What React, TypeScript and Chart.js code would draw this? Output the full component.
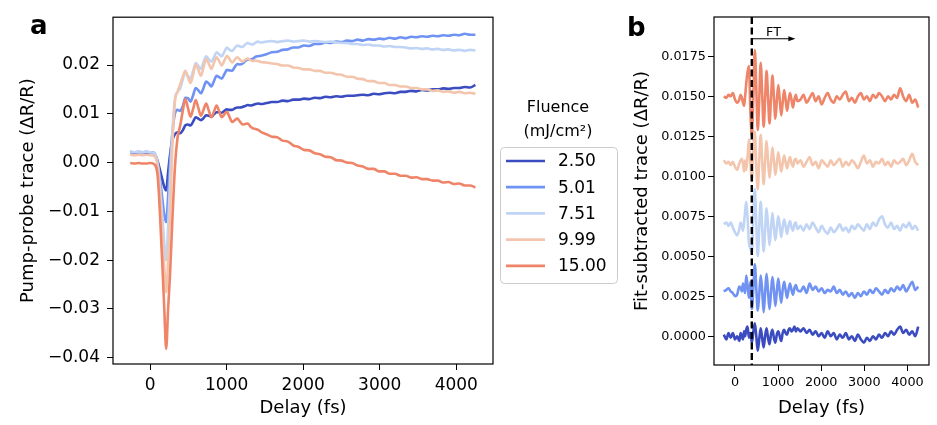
import React, { useEffect, useRef } from 'react';
import { Chart, registerables } from 'chart.js';

Chart.register(...registerables);

const FONT = 'DejaVu Sans';

// pump-probe delay grid (fs), shared by every trace
const delays = [
  -260, -200, -150, -100, -50, 0, 50, 100, 130, 160, 185, 210, 235, 260,
  290, 324, 358, 392, 426, 460, 494, 528, 562, 596, 630, 664, 698, 732, 766, 800, 834, 868,
  902, 936, 970, 1004, 1038, 1072, 1106, 1140, 1174, 1208, 1242, 1276, 1310, 1344, 1378, 1412, 1446,
  1520, 1590, 1660, 1730, 1800, 1870, 1940, 2010, 2080, 2150, 2220, 2290, 2360, 2430, 2500, 2570,
  2640, 2710, 2780, 2850, 2920, 2990, 3060, 3130, 3200, 3270, 3340, 3410, 3480, 3550, 3620, 3690,
  3760, 3830, 3900, 3970, 4040, 4110, 4180, 4250,
];

const fluences = ['2.50', '5.01', '7.51', '9.99', '15.00'];
const colors = ['#3b4cc0', '#7093f3', '#c0d4f5', '#f4c5ad', '#ee8468'];

// panel a: raw traces (ΔR/R)
const trace250 = [
  0.0021, 0.0020, 0.0021, 0.0021, 0.0020, 0.0021, 0.0019, 0.0002, -0.0016, -0.0035, -0.0050, -0.0057, -0.0020, 0.0015,
  0.0045, 0.0058, 0.0062, 0.0060, 0.0066, 0.0076, 0.0078, 0.0076, 0.0084, 0.0093, 0.0090, 0.0087, 0.0091, 0.0097, 0.0096,
  0.0094, 0.0099, 0.0103, 0.0103, 0.0102, 0.0106, 0.0109, 0.0108, 0.0108, 0.0111, 0.0113, 0.0113, 0.0114, 0.0116, 0.0118,
  0.0117, 0.0118, 0.0120, 0.0121, 0.0120,
  0.0122, 0.0124, 0.0124, 0.0127, 0.0126, 0.0129, 0.0129, 0.0131, 0.0130, 0.0133, 0.0132, 0.0135, 0.0134, 0.0136, 0.0135,
  0.0137, 0.0137, 0.0138, 0.0139, 0.0138, 0.0141, 0.0140, 0.0142, 0.0143, 0.0142, 0.0145, 0.0145, 0.0147, 0.0146, 0.0149,
  0.0148, 0.0150, 0.0150, 0.0152, 0.0151, 0.0153, 0.0153, 0.0155, 0.0154, 0.0159,
];
const trace501 = [
  0.0022, 0.0021, 0.0022, 0.0021, 0.0022, 0.0021, 0.0020, -0.0002, -0.0035, -0.0075, -0.0108, -0.0122, -0.0070, 0.0000,
  0.0060, 0.0100, 0.0108, 0.0106, 0.0115, 0.0133, 0.0132, 0.0125, 0.0138, 0.0153, 0.0148, 0.0142, 0.0153, 0.0166, 0.0162,
  0.0156, 0.0167, 0.0178, 0.0175, 0.0172, 0.0181, 0.0190, 0.0189, 0.0188, 0.0196, 0.0202, 0.0201, 0.0203, 0.0208, 0.0211,
  0.0211, 0.0213, 0.0217, 0.0218, 0.0219,
  0.0222, 0.0226, 0.0227, 0.0231, 0.0232, 0.0236, 0.0236, 0.0240, 0.0239, 0.0243, 0.0243, 0.0246, 0.0245, 0.0248, 0.0247,
  0.0250, 0.0249, 0.0252, 0.0250, 0.0253, 0.0252, 0.0254, 0.0253, 0.0256, 0.0254, 0.0257, 0.0255, 0.0258, 0.0257, 0.0259,
  0.0258, 0.0260, 0.0259, 0.0261, 0.0260, 0.0262, 0.0261, 0.0264, 0.0262, 0.0262,
];
const trace751 = [
  0.0022, 0.0021, 0.0022, 0.0021, 0.0022, 0.0021, 0.0020, -0.0004, -0.0050, -0.0110, -0.0165, -0.0200, -0.0130, -0.0040,
  0.0060, 0.0130, 0.0145, 0.0152, 0.0170, 0.0185, 0.0178, 0.0172, 0.0188, 0.0204, 0.0198, 0.0192, 0.0206, 0.0218, 0.0212,
  0.0207, 0.0216, 0.0226, 0.0222, 0.0218, 0.0227, 0.0236, 0.0231, 0.0229, 0.0235, 0.0240, 0.0238, 0.0237, 0.0242, 0.0245,
  0.0243, 0.0242, 0.0246, 0.0248, 0.0246,
  0.0248, 0.0249, 0.0247, 0.0249, 0.0250, 0.0248, 0.0249, 0.0250, 0.0248, 0.0249, 0.0248, 0.0247, 0.0248, 0.0246, 0.0245,
  0.0245, 0.0243, 0.0243, 0.0241, 0.0242, 0.0240, 0.0240, 0.0238, 0.0239, 0.0237, 0.0237, 0.0236, 0.0234, 0.0235, 0.0233,
  0.0234, 0.0232, 0.0233, 0.0231, 0.0232, 0.0230, 0.0231, 0.0229, 0.0231, 0.0230,
];
const trace999 = [
  0.0016, 0.0015, 0.0016, 0.0015, 0.0016, 0.0015, 0.0014, -0.0010, -0.0070, -0.0150, -0.0215, -0.0266, -0.0200, -0.0110,
  0.0030, 0.0125, 0.0145, 0.0160, 0.0176, 0.0188, 0.0175, 0.0163, 0.0180, 0.0201, 0.0190, 0.0178, 0.0195, 0.0212, 0.0203,
  0.0192, 0.0204, 0.0216, 0.0208, 0.0199, 0.0209, 0.0219, 0.0212, 0.0205, 0.0211, 0.0216, 0.0211, 0.0207, 0.0211, 0.0213,
  0.0210, 0.0208, 0.0209, 0.0208, 0.0206,
  0.0205, 0.0203, 0.0202, 0.0199, 0.0199, 0.0195, 0.0194, 0.0191, 0.0191, 0.0188, 0.0188, 0.0184, 0.0184, 0.0181, 0.0180,
  0.0176, 0.0176, 0.0172, 0.0171, 0.0167, 0.0167, 0.0163, 0.0163, 0.0159, 0.0159, 0.0156, 0.0156, 0.0153, 0.0153, 0.0150,
  0.0150, 0.0147, 0.0148, 0.0145, 0.0146, 0.0143, 0.0145, 0.0142, 0.0143, 0.0141,
];
const trace1500 = [
  -0.0001, -0.0002, -0.0001, -0.0002, -0.0002, -0.0001, -0.0003, -0.0030, -0.0110, -0.0210, -0.0300, -0.0382, -0.0300, -0.0230,
  -0.0120, -0.0010, 0.0050, 0.0075, 0.0105, 0.0130, 0.0112, 0.0094, 0.0110, 0.0128, 0.0112, 0.0096, 0.0108, 0.0121, 0.0107,
  0.0093, 0.0104, 0.0117, 0.0105, 0.0093, 0.0099, 0.0104, 0.0093, 0.0083, 0.0087, 0.0090, 0.0084, 0.0078, 0.0079, 0.0080,
  0.0074, 0.0070, 0.0069, 0.0067, 0.0063,
  0.0058, 0.0053, 0.0052, 0.0045, 0.0043, 0.0035, 0.0032, 0.0026, 0.0025, 0.0019, 0.0017, 0.0012, 0.0011, 0.0005, 0.0004,
  0.0000, -0.0001, -0.0006, -0.0008, -0.0013, -0.0013, -0.0018, -0.0018, -0.0023, -0.0023, -0.0027, -0.0027, -0.0031, -0.0030, -0.0034,
  -0.0034, -0.0037, -0.0037, -0.0041, -0.0040, -0.0044, -0.0043, -0.0047, -0.0047, -0.0051,
];

// panel b: fit-subtracted traces, already offset
const sub250 = [
  0.0001, -0.0002, 0.0002, -0.0001, 0.0002, -0.0002, 0.0000, -0.0003, 0.0002, 0.0000, -0.0002, 0.0003, 0.0000, 0.0004,
  0.0006, -0.0001, 0.0002, -0.0004, 0.0003, 0.0008, 0.0000, -0.0009, -0.0002, 0.0005, -0.0001, -0.0007, 0.0000, 0.0005, -0.0001,
  -0.0005, 0.0001, 0.0004, -0.0001, -0.0004, 0.0001, 0.0003, 0.0000, -0.0003, 0.0002, 0.0004, 0.0002, 0.0001, 0.0004, 0.0005,
  0.0003, 0.0004, 0.0006, 0.0003, 0.0005,
  0.0003, 0.0005, 0.0002, 0.0004, 0.0001, 0.0003, 0.0000, 0.0002, -0.0001, 0.0003, 0.0000, 0.0002, -0.0002, 0.0001, -0.0001,
  0.0002, -0.0002, 0.0000, -0.0003, 0.0001, -0.0002, -0.0004, -0.0001, -0.0003, 0.0000, -0.0002, 0.0001, -0.0001, 0.0002, 0.0000,
  0.0003, 0.0001, 0.0004, 0.0006, 0.0002, 0.0004, 0.0001, 0.0003, 0.0000, 0.0006,
];
const sub501 = [
  0.0028, 0.0029, 0.0030, 0.0028, 0.0027, 0.0025, 0.0026, 0.0031, 0.0030, 0.0028, 0.0033, 0.0030, 0.0027, 0.0038,
  0.0032, 0.0024, 0.0034, 0.0017, 0.0030, 0.0045, 0.0030, 0.0016, 0.0026, 0.0038, 0.0029, 0.0015, 0.0027, 0.0039, 0.0028,
  0.0017, 0.0027, 0.0037, 0.0029, 0.0019, 0.0028, 0.0036, 0.0028, 0.0021, 0.0029, 0.0034, 0.0029, 0.0024, 0.0029, 0.0033,
  0.0029, 0.0026, 0.0030, 0.0032, 0.0029,
  0.0028, 0.0031, 0.0027, 0.0033, 0.0029, 0.0031, 0.0028, 0.0030, 0.0027, 0.0029, 0.0028, 0.0031, 0.0027, 0.0029, 0.0026,
  0.0028, 0.0025, 0.0027, 0.0024, 0.0027, 0.0025, 0.0028, 0.0026, 0.0029, 0.0027, 0.0030, 0.0028, 0.0026, 0.0029, 0.0027,
  0.0030, 0.0028, 0.0031, 0.0029, 0.0032, 0.0028, 0.0031, 0.0034, 0.0029, 0.0031,
];
const sub751 = [
  0.0070, 0.0071, 0.0069, 0.0071, 0.0068, 0.0065, 0.0063, 0.0067, 0.0071, 0.0069, 0.0066, 0.0071, 0.0078, 0.0084,
  0.0075, 0.0058, 0.0055, 0.0052, 0.0075, 0.0092, 0.0070, 0.0050, 0.0068, 0.0084, 0.0068, 0.0053, 0.0066, 0.0080, 0.0069,
  0.0057, 0.0067, 0.0077, 0.0068, 0.0060, 0.0068, 0.0075, 0.0069, 0.0062, 0.0068, 0.0073, 0.0069, 0.0064, 0.0069, 0.0072,
  0.0068, 0.0066, 0.0070, 0.0071, 0.0067,
  0.0069, 0.0066, 0.0070, 0.0067, 0.0071, 0.0068, 0.0065, 0.0069, 0.0066, 0.0064, 0.0068, 0.0065, 0.0067, 0.0070, 0.0066,
  0.0068, 0.0065, 0.0069, 0.0067, 0.0070, 0.0068, 0.0066, 0.0070, 0.0067, 0.0071, 0.0069, 0.0073, 0.0075, 0.0070, 0.0068,
  0.0071, 0.0067, 0.0069, 0.0066, 0.0070, 0.0068, 0.0071, 0.0067, 0.0069, 0.0066,
];
const sub999 = [
  0.0110, 0.0108, 0.0109, 0.0107, 0.0109, 0.0106, 0.0104, 0.0108, 0.0110, 0.0111, 0.0108, 0.0103, 0.0110, 0.0104,
  0.0112, 0.0123, 0.0108, 0.0097, 0.0118, 0.0128, 0.0106, 0.0092, 0.0110, 0.0126, 0.0110, 0.0095, 0.0109, 0.0122, 0.0110,
  0.0099, 0.0108, 0.0118, 0.0110, 0.0101, 0.0108, 0.0115, 0.0109, 0.0103, 0.0108, 0.0113, 0.0109, 0.0105, 0.0109, 0.0112,
  0.0108, 0.0106, 0.0110, 0.0111, 0.0108,
  0.0110, 0.0106, 0.0109, 0.0112, 0.0107, 0.0109, 0.0105, 0.0110, 0.0108, 0.0106, 0.0110, 0.0107, 0.0109, 0.0111, 0.0106,
  0.0109, 0.0107, 0.0110, 0.0108, 0.0105, 0.0109, 0.0113, 0.0108, 0.0110, 0.0106, 0.0109, 0.0108, 0.0111, 0.0107, 0.0109,
  0.0106, 0.0110, 0.0108, 0.0109, 0.0111, 0.0107, 0.0110, 0.0114, 0.0109, 0.0107,
];
const sub1500 = [
  0.0150, 0.0149, 0.0151, 0.0150, 0.0152, 0.0148, 0.0146, 0.0148, 0.0151, 0.0149, 0.0146, 0.0144, 0.0150, 0.0158,
  0.0165, 0.0169, 0.0140, 0.0125, 0.0150, 0.0179, 0.0155, 0.0129, 0.0148, 0.0171, 0.0152, 0.0131, 0.0148, 0.0166, 0.0150,
  0.0133, 0.0148, 0.0163, 0.0150, 0.0136, 0.0147, 0.0157, 0.0148, 0.0138, 0.0146, 0.0154, 0.0148, 0.0141, 0.0147, 0.0152,
  0.0148, 0.0143, 0.0148, 0.0151, 0.0147,
  0.0148, 0.0151, 0.0146, 0.0149, 0.0152, 0.0147, 0.0150, 0.0145, 0.0149, 0.0152, 0.0148, 0.0146, 0.0150, 0.0148, 0.0151,
  0.0153, 0.0147, 0.0149, 0.0146, 0.0150, 0.0152, 0.0148, 0.0150, 0.0147, 0.0151, 0.0149, 0.0152, 0.0150, 0.0147, 0.0150,
  0.0148, 0.0151, 0.0149, 0.0155, 0.0150, 0.0147, 0.0151, 0.0146, 0.0148, 0.0143,
];

const rawTraces = [trace250, trace501, trace751, trace999, trace1500];
const subTraces = [sub250, sub501, sub751, sub999, sub1500];

const delayTicks = [0, 1000, 2000, 3000, 4000];
const rawTicks = [-0.04, -0.03, -0.02, -0.01, 0.0, 0.01, 0.02];
const subTicks = [0.0, 0.0025, 0.005, 0.0075, 0.01, 0.0125, 0.015, 0.0175];

// FT window marker in panel b
const ftStart = 390;
const ftEnd = 1400;
const ftLevel = 0.0186;

const fmt = (v: number, digits: number) =>
  (v < 0 ? '\u2212' : '') + Math.abs(v).toFixed(digits);

const toPoints = (vals: number[]) => delays.map((d, i) => ({ x: d, y: vals[i] }));

const makeDatasets = (series: number[][]) =>
  series.map((vals, i) => ({
    label: fluences[i],
    data: toPoints(vals),
    borderColor: colors[i],
    borderWidth: 2.6,
    pointRadius: 0,
    cubicInterpolationMode: 'monotone' as const,
    order: series.length - i, // last fluence on top
  }));

const frame = {
  id: 'frame',
  afterDraw(chart: any) {
    const { ctx, chartArea: a } = chart;
    ctx.save();
    ctx.strokeStyle = '#000';
    ctx.lineWidth = 1.2;
    ctx.strokeRect(a.left, a.top, a.right - a.left, a.bottom - a.top);
    ctx.restore();
  },
};

const panelLetter = (text: string, x: number, y: number) => ({
  id: 'letter-' + text,
  afterDraw(chart: any) {
    const ctx = chart.ctx;
    ctx.save();
    ctx.fillStyle = '#000';
    ctx.font = `bold 26px "${FONT}"`;
    ctx.textBaseline = 'alphabetic';
    ctx.fillText(text, x, y);
    ctx.restore();
  },
});

// legend sits between the panels, drawn on the left canvas
const fluenceLegend = {
  id: 'fluenceLegend',
  afterDraw(chart: any) {
    const ctx = chart.ctx;
    ctx.save();
    ctx.fillStyle = '#000';
    ctx.textAlign = 'center';
    ctx.textBaseline = 'middle';
    ctx.font = `16px "${FONT}"`;
    ctx.fillText('Fluence', 558, 108);
    ctx.fillText('(mJ/cm\u00b2)', 558, 132);

    ctx.beginPath();
    ctx.roundRect(500.5, 147.5, 117, 136, 4);
    ctx.fillStyle = 'rgba(255,255,255,0.8)';
    ctx.fill();
    ctx.strokeStyle = '#cccccc';
    ctx.lineWidth = 1;
    ctx.stroke();

    ctx.textAlign = 'left';
    ctx.font = `17px "${FONT}"`;
    fluences.forEach((f, i) => {
      const y = 161 + i * 26.2;
      ctx.beginPath();
      ctx.moveTo(506, y);
      ctx.lineTo(545, y);
      ctx.strokeStyle = colors[i];
      ctx.lineWidth = 2.7;
      ctx.stroke();
      ctx.fillStyle = '#000';
      ctx.fillText(f, 558, y + 1);
    });
    ctx.restore();
  },
};

const ftMarker = {
  id: 'ftMarker',
  afterDatasetsDraw(chart: any) {
    const { ctx, chartArea: a, scales } = chart;
    const x0 = scales.x.getPixelForValue(ftStart);
    const x1 = scales.x.getPixelForValue(ftEnd);
    const y = scales.y.getPixelForValue(ftLevel);
    ctx.save();
    ctx.strokeStyle = '#000';
    ctx.lineWidth = 2.4;
    ctx.setLineDash([7, 3.5]);
    ctx.beginPath();
    ctx.moveTo(x0, a.top);
    ctx.lineTo(x0, a.bottom);
    ctx.stroke();

    ctx.setLineDash([]);
    ctx.lineWidth = 1;
    ctx.beginPath();
    ctx.moveTo(x0, y);
    ctx.lineTo(x1 - 6, y);
    ctx.stroke();
    ctx.beginPath();
    ctx.moveTo(x1, y);
    ctx.lineTo(x1 - 7, y - 2.6);
    ctx.lineTo(x1 - 7, y + 2.6);
    ctx.closePath();
    ctx.fillStyle = '#000';
    ctx.fill();

    ctx.font = `12.8px "${FONT}"`;
    ctx.textAlign = 'center';
    ctx.textBaseline = 'alphabetic';
    ctx.fillText('FT', scales.x.getPixelForValue((ftStart + ftEnd) / 2), y - 2.5);
    ctx.restore();
  },
};

interface AxisSpec {
  min: number;
  max: number;
  ticks: number[];
  digits: number;
  tickFont: number;
  tickPad: number;
  title: string;
  titlePad: number;
  size: number;
}

const axis = (s: AxisSpec, horizontal: boolean) => ({
  type: 'linear' as const,
  min: s.min,
  max: s.max,
  afterBuildTicks: (scale: any) => {
    scale.ticks = s.ticks.map((v) => ({ value: v }));
  },
  afterFit: (scale: any) => {
    if (horizontal) scale.height = s.size;
    else scale.width = s.size;
  },
  ticks: {
    color: '#000',
    font: { family: FONT, size: s.tickFont },
    padding: s.tickPad,
    autoSkip: false,
    maxRotation: 0,
    callback: (v: any) => (horizontal ? String(v) : fmt(Number(v), s.digits)),
  },
  grid: {
    display: true,
    drawOnChartArea: false,
    drawTicks: true,
    tickLength: 6,
    color: '#000',
    lineWidth: 1,
  },
  border: { display: false },
  title: {
    display: true,
    text: s.title,
    color: '#000',
    font: { family: FONT, size: 18 },
    padding: horizontal ? { top: 0, bottom: s.titlePad } : { top: s.titlePad, bottom: 0 },
  },
});

const App: React.FC = () => {
  const rawRef = useRef<HTMLCanvasElement>(null);
  const subRef = useRef<HTMLCanvasElement>(null);

  useEffect(() => {
    if (!rawRef.current || !subRef.current) return;

    const rawChart = new Chart(rawRef.current, {
      type: 'line',
      data: { datasets: makeDatasets(rawTraces) as any },
      options: {
        responsive: false,
        animation: false,
        layout: { padding: { left: 0, top: 17, right: 127, bottom: 0 } },
        plugins: { legend: { display: false }, tooltip: { enabled: false } },
        scales: {
          x: axis({ min: -485, max: 4480, ticks: delayTicks, digits: 0, tickFont: 17, tickPad: 5,
            title: 'Delay (fs)', titlePad: 6, size: 61 }, true),
          y: axis({ min: -0.0413, max: 0.0298, ticks: rawTicks, digits: 2, tickFont: 17, tickPad: 7,
            title: 'Pump-probe trace (\u0394R/R)', titlePad: 18, size: 113 }, false),
        },
      } as any,
      plugins: [frame, panelLetter('a', 30, 34), fluenceLegend],
    });

    const subChart = new Chart(subRef.current, {
      type: 'line',
      data: { datasets: makeDatasets(subTraces) as any },
      options: {
        responsive: false,
        animation: false,
        layout: { padding: { left: 0, top: 17, right: 8, bottom: 0 } },
        plugins: { legend: { display: false }, tooltip: { enabled: false } },
        scales: {
          x: axis({ min: -487, max: 4500, ticks: delayTicks, digits: 0, tickFont: 12.8, tickPad: 4,
            title: 'Delay (fs)', titlePad: 6, size: 60 }, true),
          y: axis({ min: -0.0018, max: 0.01996, ticks: subTicks, digits: 4, tickFont: 12.8, tickPad: 2,
            title: 'Fit-subtracted trace (\u0394R/R)', titlePad: 12, size: 94 }, false),
        },
      } as any,
      plugins: [frame, ftMarker, panelLetter('b', 7, 36)],
    });

    return () => {
      rawChart.destroy();
      subChart.destroy();
    };
  }, []);

  return (
    <div style={{ position: 'absolute', left: 0, top: 0, width: 937, height: 425, background: '#fff' }}>
      <canvas ref={rawRef} width={620} height={425} style={{ position: 'absolute', left: 0, top: 0 }} />
      <canvas ref={subRef} width={317} height={425} style={{ position: 'absolute', left: 620, top: 0 }} />
    </div>
  );
};

export default App;
